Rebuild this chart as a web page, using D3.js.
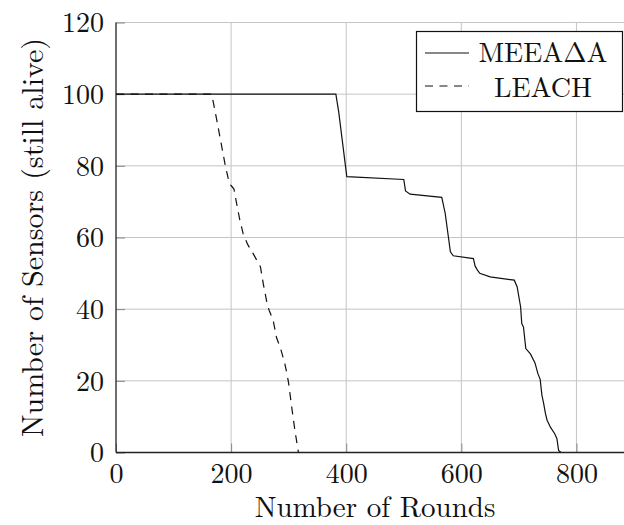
<!DOCTYPE html>
<html>
<head>
<meta charset="utf-8">
<script src="https://cdn.jsdelivr.net/npm/d3@7"></script>
<style>
  html, body { margin: 0; padding: 0; background: #fff; }
  svg { display: block; }
</style>
</head>
<body>
<svg id="chart" width="624" height="525"></svg>
<script>
// Sensors still alive per round, two clustering protocols
const meeaRounds = [0, 382, 387, 401, 500, 503, 511, 566, 572, 581, 586, 621, 624, 628, 632, 650, 692, 697, 703, 705, 708, 712, 720, 728, 733, 737, 740, 743, 746, 749, 755, 762, 766, 769, 773];
const meeaAlive  = [100, 100, 95, 77, 76.2, 73, 72.1, 71.2, 66.7, 56, 54.9, 54.1, 52, 50.9, 50, 49, 48.1, 46.2, 40.6, 36, 35, 29, 27.5, 25, 22, 20.4, 16, 13.7, 11, 9, 7, 5.3, 3.9, 0.6, 0];

const leachRounds = [0, 166, 170, 176, 183, 190, 197, 201, 205, 209, 215, 221, 229, 240, 251, 256, 262, 266, 273, 279, 286, 293, 297, 300, 305, 311, 317];
const leachAlive  = [100, 100, 97, 92, 86, 80, 75, 74.3, 73.5, 70, 65, 61, 58, 55, 51.8, 47, 42, 39.7, 36.9, 32, 29, 25, 22, 19.3, 13, 6, 0];

const xTicks = [0, 200, 400, 600, 800];
const yTicks = [0, 20, 40, 60, 80, 100, 120];
const seriesNames = ["MEEA\u0394A", "LEACH"];

const serif = "'Latin Modern Roman', 'Times New Roman', serif";
const fontSize = "28px";
const ink = "#111";
const svg = d3.select("#chart");
const plotLeft = 116, plotBottom = 452.5, plotTop = 22.5, plotRight = 634;

const x = d3.scaleLinear().domain([0, 900]).range([plotLeft, plotRight]);
const y = d3.scaleLinear().domain([0, 120]).range([plotBottom, plotTop]);

// grid
const grid = svg.append("g");
grid.selectAll(".gx").data(xTicks.filter(d => d > 0)).join("line")
  .attr("x1", d => x(d)).attr("x2", d => x(d))
  .attr("y1", plotBottom).attr("y2", plotTop)
  .attr("stroke", "#c4c4c4").attr("stroke-width", 1);
grid.selectAll(".gy").data(yTicks.filter(d => d > 0)).join("line")
  .attr("x1", plotLeft).attr("x2", plotRight)
  .attr("y1", d => y(d)).attr("y2", d => y(d))
  .attr("stroke", "#c4c4c4").attr("stroke-width", 1);

// axes: ticks point inward, labels set separately
const xAxis = d3.axisBottom(x).tickValues(xTicks).tickSize(-9).tickFormat("");
const yAxis = d3.axisLeft(y).tickValues(yTicks).tickSize(-9).tickFormat("");
const gx = svg.append("g").attr("transform", `translate(0,${plotBottom})`).call(xAxis);
const gy = svg.append("g").attr("transform", `translate(${plotLeft},0)`).call(yAxis);
[gx, gy].forEach(g => {
  g.select(".domain").remove();
  g.selectAll(".tick line").attr("stroke", "#888").attr("stroke-width", 1);
});

gx.selectAll(".tick").append("text")
  .attr("y", 30).attr("text-anchor", "middle")
  .style("font-family", serif).style("font-size", fontSize).style("fill", ink)
  .text(d => d);
gy.selectAll(".tick").append("text")
  .attr("x", -12).attr("dy", "0.33em").attr("text-anchor", "end")
  .style("font-family", serif).style("font-size", fontSize).style("fill", ink)
  .text(d => d);

// axis lines
svg.append("line").attr("x1", plotLeft).attr("x2", plotRight).attr("y1", plotBottom).attr("y2", plotBottom)
  .attr("stroke", "#222").attr("stroke-width", 1.3);
svg.append("line").attr("x1", plotLeft).attr("x2", plotLeft).attr("y1", plotBottom).attr("y2", plotTop)
  .attr("stroke", "#222").attr("stroke-width", 1.3);

// series
const line = d3.line().x(d => x(d[0])).y(d => y(d[1]));
const meea = meeaRounds.map((r, i) => [r, meeaAlive[i]]);
const leach = leachRounds.map((r, i) => [r, leachAlive[i]]);

svg.append("path").datum(meea).attr("d", line)
  .attr("fill", "none").attr("stroke", ink).attr("stroke-width", 1.2);
svg.append("path").datum(leach).attr("d", line)
  .attr("fill", "none").attr("stroke", ink).attr("stroke-width", 1.2)
  .attr("stroke-dasharray", "8,6.5");

// axis titles
svg.append("text").attr("x", (plotLeft + plotRight) / 2).attr("y", 517)
  .attr("text-anchor", "middle")
  .style("font-family", serif).style("font-size", "29px").style("fill", ink)
  .text("Number of Rounds");
svg.append("text")
  .attr("transform", `translate(43,${(plotTop + plotBottom) / 2}) rotate(-90)`)
  .attr("text-anchor", "middle")
  .style("font-family", serif).style("font-size", "30px").style("fill", ink)
  .text("Number of Sensors (still alive)");

// legend
const lg = svg.append("g");
lg.append("rect").attr("x", 416.5).attr("y", 31.5).attr("width", 206).attr("height", 80)
  .attr("fill", "#fff").attr("stroke", ink).attr("stroke-width", 1.2);
const entries = [
  { name: seriesNames[0], dash: null, ly: 53, ty: 62 },
  { name: seriesNames[1], dash: "8,6.5", ly: 86, ty: 97 }
];
entries.forEach(e => {
  lg.append("line").attr("x1", 425).attr("x2", 469).attr("y1", e.ly).attr("y2", e.ly)
    .attr("stroke", ink).attr("stroke-width", 1.2)
    .attr("stroke-dasharray", e.dash);
  lg.append("text").attr("x", 543).attr("y", e.ty).attr("text-anchor", "middle")
    .style("font-family", serif).style("font-size", fontSize).style("fill", ink)
    .text(e.name);
});
</script>
</body>
</html>
